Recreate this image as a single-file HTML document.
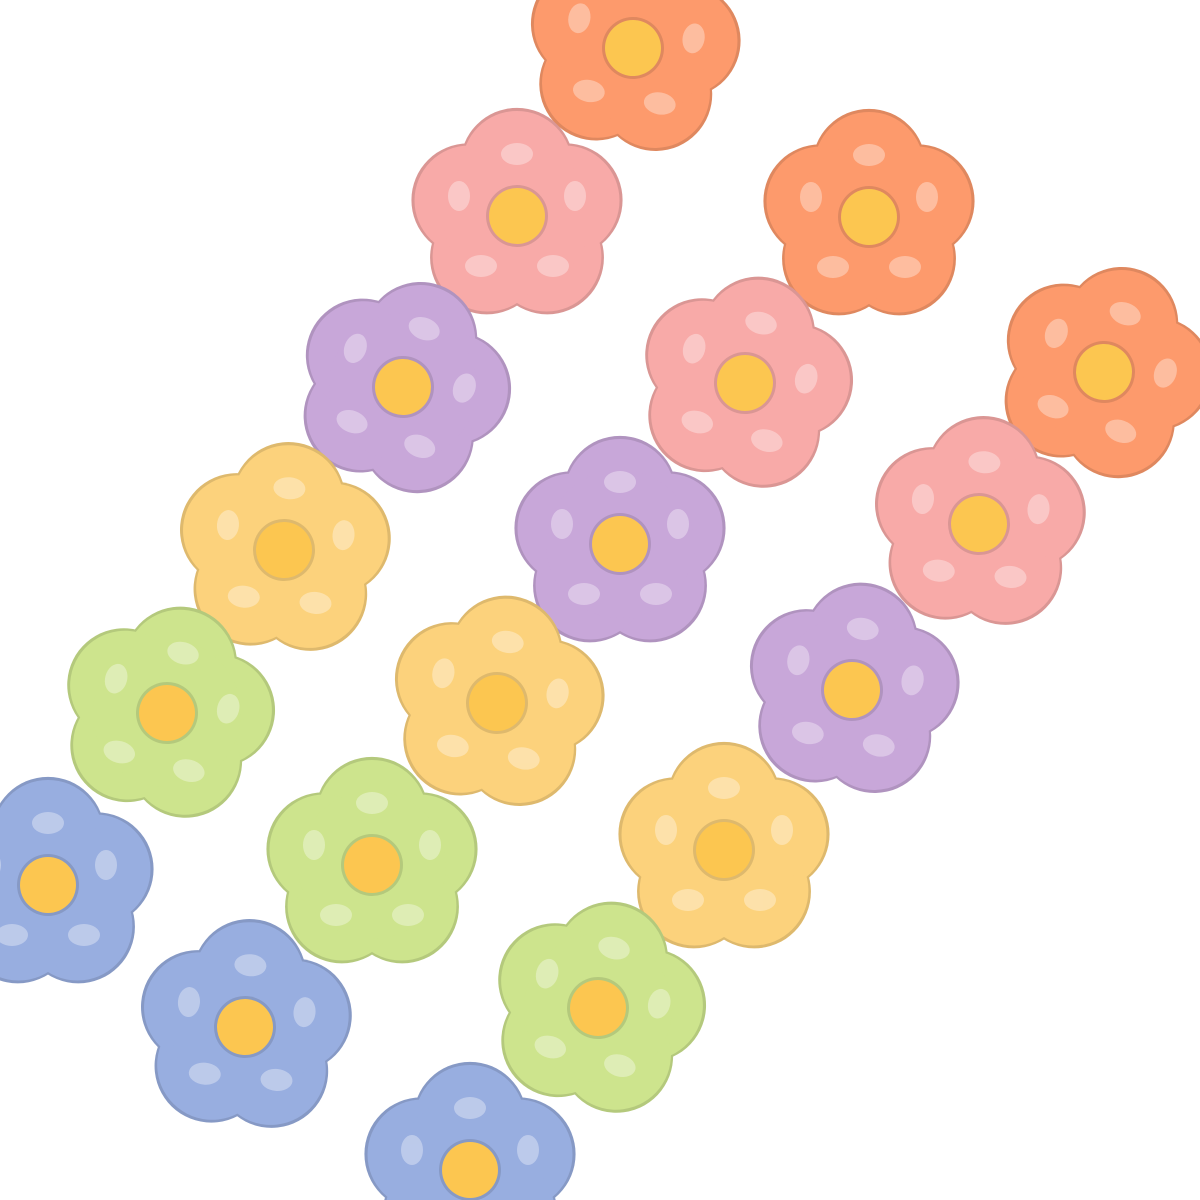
<!DOCTYPE html>
<html><head><meta charset="utf-8"><style>html,body{margin:0;padding:0;background:#fff;width:1200px;height:1200px;overflow:hidden}svg{display:block}</style></head>
<body>
<svg width="1200" height="1200" viewBox="0 0 1200 1200" xmlns="http://www.w3.org/2000/svg">
<defs>
<g id="petals">
<circle cx="0" cy="-50" r="55"/>
<circle cx="47.5" cy="-15.5" r="55"/>
<circle cx="29.4" cy="40.5" r="55"/>
<circle cx="-29.4" cy="40.5" r="55"/>
<circle cx="-47.5" cy="-15.5" r="55"/>
<circle cx="0" cy="0" r="74"/>
</g>
<g id="hl" fill="#fff" opacity="0.35">
<ellipse cx="0" cy="-62" rx="16" ry="11"/>
<ellipse cx="58" cy="-20" rx="11" ry="15"/>
<ellipse cx="36" cy="50" rx="16" ry="11"/>
<ellipse cx="-36" cy="50" rx="16" ry="11"/>
<ellipse cx="-58" cy="-20" rx="11" ry="15"/>
</g>
</defs>
<g id="flowers"></g>
<script>
var data=[
[633,48,'#fd9a6c',10],[517,216,'#f8aaa8',0],[403,387,'#c8a7d9',20],[284,550,'#fcd27c',5],[167,713,'#cde48d',15],[48,885,'#98aee0',0],
[869,217,'#fd9a6c',0],[745,383,'#f8aaa8',15],[620,544,'#c8a7d9',0],[497,703,'#fcd27c',10],[372,865,'#cde48d',0],[245,1027,'#98aee0',5],
[1104,372,'#fd9a6c',20],[979,524,'#f8aaa8',5],[852,690,'#c8a7d9',10],[724,850,'#fcd27c',0],[598,1008,'#cde48d',15],[470,1170,'#98aee0',0]
];
var NS='http://www.w3.org/2000/svg',g=document.getElementById('flowers');
function shade(c,f){var n=parseInt(c.slice(1),16),r=n>>16,gg=(n>>8)&255,b=n&255;return 'rgb('+Math.round(r*f)+','+Math.round(gg*f)+','+Math.round(b*f)+')';}
data.forEach(function(d){
 var grp=document.createElementNS(NS,'g');
 grp.setAttribute('transform','translate('+d[0]+','+d[1]+') rotate('+d[3]+')');
 var o=document.createElementNS(NS,'use');o.setAttribute('href','#petals');o.setAttribute('fill',shade(d[2],0.88));o.setAttribute('transform','scale(1.03)');grp.appendChild(o);
 var p=document.createElementNS(NS,'use');p.setAttribute('href','#petals');p.setAttribute('fill',d[2]);grp.appendChild(p);
 var h=document.createElementNS(NS,'use');h.setAttribute('href','#hl');grp.appendChild(h);
 var c1=document.createElementNS(NS,'circle');c1.setAttribute('r','31');c1.setAttribute('fill',shade(d[2],0.88));grp.appendChild(c1);
 var c=document.createElementNS(NS,'circle');c.setAttribute('r','28');c.setAttribute('fill','#fcc650');grp.appendChild(c);
 g.appendChild(grp);
});
</script>
</svg>
</body></html>
